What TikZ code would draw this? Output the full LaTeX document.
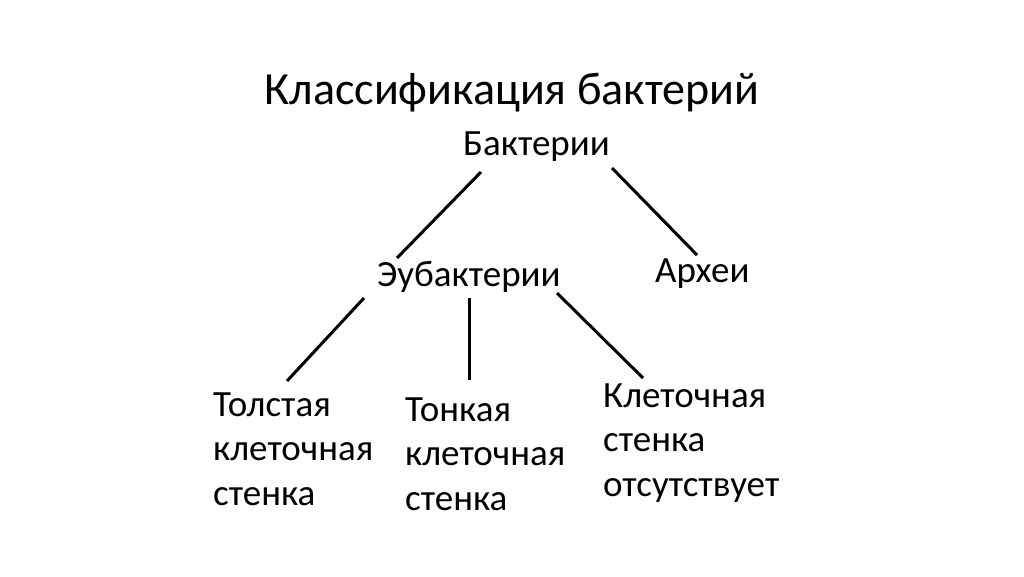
\documentclass[tikz,border=0pt]{standalone}
\usepackage{fontspec}
\setmainfont{Carlito}
\usetikzlibrary{calc}
\begin{document}
\begin{tikzpicture}[x=1pt,y=-1pt,
  lbl/.style={inner sep=0pt, anchor=base west, font=\fontsize{37}{44.5}\selectfont, align=left},
  ttl/.style={inner sep=0pt, anchor=base, font=\fontsize{46}{54}\selectfont},
  conn/.style={line width=3pt, black}]
\useasboundingbox[fill=white] (0,0) rectangle (1024,576);
\node[ttl] (title) at (512,104) {Классификация бактерий};
\node[lbl] (bact) at (463,155) {Бактерии};
\node[lbl] (eub) at (377,286) {Эубактерии};
\node[lbl] (arch) at (655,282) {Археи};
\node[lbl] (tol) at (213,505) {Толстая\\клеточная\\стенка};
\node[lbl] (ton) at (405,510) {Тонкая\\клеточная\\стенка};
\node[lbl] (kl) at (603,496) {Клеточная\\стенка\\отсутствует};
\draw[conn] ([shift={(18,17)}]bact.base west) -- ([shift={(20,-28)}]eub.base west);
\draw[conn] ([shift={(149,13)}]bact.base west) -- ([shift={(42,-27)}]arch.base west);
\draw[conn] ([shift={(-13,12)}]eub.base west) -- ([shift={(74,-124)}]tol.base west);
\draw[conn] ([shift={(92,12)}]eub.base west) -- ([shift={(64,-130)}]ton.base west);
\draw[conn] ([shift={(180,7)}]eub.base west) -- ([shift={(40,-118)}]kl.base west);
\end{tikzpicture}
\end{document}
